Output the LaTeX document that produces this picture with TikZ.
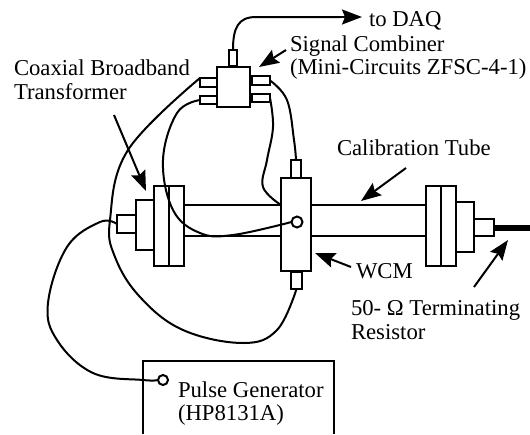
\documentclass[tikz,border=0pt]{standalone}
\usepackage{fontspec}
\setmainfont{Liberation Serif}
\usetikzlibrary{arrows.meta}
\newcommand{\bx}[5]{\node[partbox,minimum width={(#4-#2)*1pt},minimum height={(#5-#3)*1pt}] (#1) at ({(#2+#4)/2},{(#3+#5)/2}) {};}
\tikzset{
  partbox/.style={draw=black,line width=2pt,inner sep=0pt,outer sep=0pt},
  wire/.style={draw=black,line width=2pt,line cap=round},
  tubeline/.style={draw=black,line width=1.8pt},
  pointer/.style={draw=black,line width=2pt,-{Stealth[length=20pt,width=15pt,inset=3pt]}},
  lbl/.style={anchor=base west,inner sep=0pt,outer sep=0pt,font=\fontsize{22.7}{26}\selectfont,text=black},
  port/.style={circle,draw=black,line width=2pt,inner sep=0pt,outer sep=0pt}
}
\begin{document}
\begin{tikzpicture}[x=1pt,y=-1pt]
\useasboundingbox (0,0) rectangle (530,434);
% signal combiner
\bx{comb}{217}{67}{250}{107}
\bx{combtop}{229}{50}{237}{66}
\bx{tabLa}{200}{78}{217}{87}
\bx{tabLb}{200}{96}{217}{104}
\bx{tabRa}{252}{76}{270}{85}
\bx{tabRb}{252}{94}{270}{102}
% left flange assembly
\bx{flLa}{154}{186}{169}{266}
\bx{flLb}{169}{186}{184}{266}
\bx{flLc}{136}{200}{154}{250}
\bx{flLd}{117}{215}{136}{233}
% WCM
\bx{wcm}{281}{178}{311}{271}
\bx{wcmtop}{291}{160}{301}{178}
\bx{wcmbot}{291}{272}{302}{289}
\node[port,minimum size=11pt] (pick) at (297,222) {};
% right flange assembly
\bx{flRa}{426}{186}{441}{266}
\bx{flRb}{441}{186}{456}{266}
\bx{flRc}{456}{202}{474}{252}
\bx{flRd}{474}{219}{494}{236}
% tube
\coordinate (tLa) at (184,205); \coordinate (tWa) at (281,205);
\coordinate (tLb) at (184,236); \coordinate (tWb) at (281,236);
\coordinate (tWc) at (311,205); \coordinate (tRa) at (426,205);
\coordinate (tWd) at (311,236); \coordinate (tRb) at (426,236);
\draw[tubeline] (tLa)--(tWa); \draw[tubeline] (tLb)--(tWb);
\draw[tubeline] (tWc)--(tRa); \draw[tubeline] (tWd)--(tRb);
% terminator lead
\coordinate (leadend) at (530,228);
\draw[draw=black,line width=6pt] (flRd.east|-leadend)--(leadend);
% pulse generator
\coordinate (pgA) at (143,434); \coordinate (pgB) at (143,361);
\coordinate (pgC) at (334,361); \coordinate (pgD) at (334,434);
\draw[partbox] (pgA)--(pgB)--(pgC)--(pgD);
\node[port,minimum size=10pt] (pgport) at (163,380) {};
% wires
\coordinate (daqtip) at (362,17);
\draw[wire] (combtop.north) .. controls (233,28) and (238,17) .. (256,17) -- (340,17);
\draw[pointer] (340,17) -- (daqtip);
\draw[wire] plot[smooth,tension=.65] coordinates {(tabLa.north west) (128,150) (110,220) (115,257) (140,297) (183,330) (243,343) (277,330) (wcmbot.south)};
\draw[wire] plot[smooth,tension=.65] coordinates {(tabLb.west) (177,113) (163,160) (173,210) (200,233) (233,235) (pick.west)};
\draw[wire] plot[smooth,tension=.65] coordinates {(tabRb.east) (273,127) (267,160) (263,187) (281,205)};
\draw[wire] plot[smooth,tension=.65] coordinates {(tabRa.east) (287,100) (294,140) (wcmtop.north)};
\draw[wire] plot[smooth,tension=.65] coordinates {(flLd.west) (100,222) (67,247) (48,303) (57,340) (93,373) (143,380) (pgport.west)};
% pointers
\coordinate (pTa) at (114,115); \coordinate (pTb) at (146,191);
\coordinate (pSa) at (286,50); \coordinate (pSb) at (259,67);
\coordinate (pCa) at (406,168); \coordinate (pCb) at (361,201);
\coordinate (pWa) at (351,267); \coordinate (pWb) at (315,253);
\coordinate (pRa) at (474,287); \coordinate (pRb) at (508,240);
\draw[pointer] (pTa)--(pTb);
\draw[pointer] (pSa)--(pSb);
\draw[pointer] (pCa)--(pCb);
\draw[pointer] (pWa)--(pWb);
\draw[pointer] (pRa)--(pRb);
% labels
\node[lbl] (l1) at (369,26) {to DAQ};
\node[lbl] (l2) at (290,51) {Signal Combiner};
\node[lbl] (l3) at (290,74) {(Mini-Circuits ZFSC-4-1)};
\node[lbl] (l4) at (14,75) {Coaxial Broadband};
\node[lbl] (l5) at (14,99) {Transformer};
\node[lbl] (l6) at (337,155) {Calibration Tube};
\node[lbl] (l7) at (356,278) {WCM};
\node[lbl] (l8) at (351,315) {50- Ω Terminating};
\node[lbl] (l9) at (351,339) {Resistor};
\node[lbl] (l10) at (178,397) {Pulse Generator};
\node[lbl] (l11) at (178,420) {(HP8131A)};
\end{tikzpicture}
\end{document}
